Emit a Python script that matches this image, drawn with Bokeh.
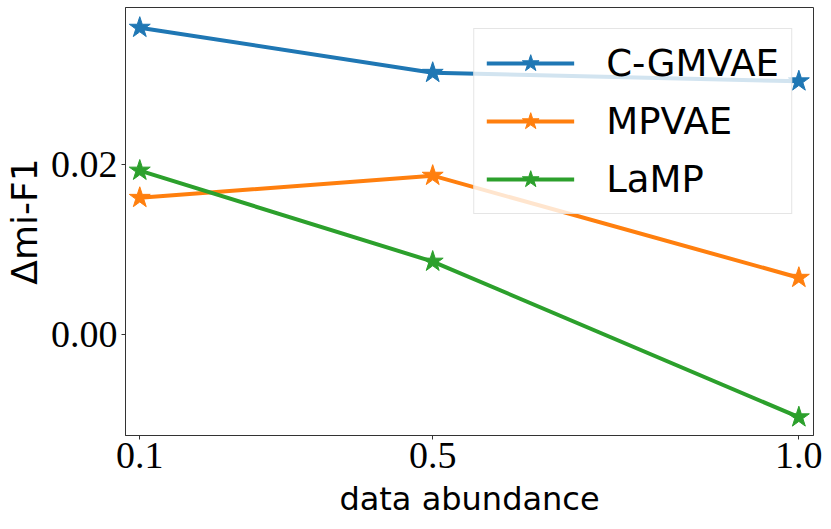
from bokeh.plotting import figure
from bokeh.models import Range1d, FixedTicker, NumeralTickFormatter
from bokeh.embed import file_html
from bokeh.resources import INLINE

# data
x_values = [0.1, 0.5, 1.0]
x_ticks = [0.1, 0.5, 1.0]
y_ticks = [0.0, 0.02]
series_names = ["C-GMVAE", "MPVAE", "LaMP"]
cgmvae = [0.0361, 0.0308, 0.0298]
mpvae = [0.0161, 0.0187, 0.0067]
lamp = [0.0193, 0.0086, -0.0097]
series_values = [cgmvae, mpvae, lamp]
colors = ["#1f77b4", "#ff7f0e", "#2ca02c"]

p = figure(width=823, height=521, output_backend="svg", toolbar_location=None,
           x_range=Range1d(0.0805, 1.020), y_range=Range1d(-0.01185, 0.03847),
           min_border_left=125, min_border_right=10, min_border_top=7,
           min_border_bottom=86)
p.xgrid.visible = False
p.ygrid.visible = False
p.outline_line_color = "#333333"
p.outline_line_width = 1
p.outline_line_alpha = 1
p.background_fill_color = "white"

for name, vals, c in zip(series_names, series_values, colors):
    p.line(x_values, vals, line_color=c, line_width=4, legend_label=name)
    p.scatter(x_values, vals, marker="star", size=22, fill_color=c,
              line_color=c, legend_label=name)

for ax in (p.xaxis[0], p.yaxis[0]):
    ax.major_label_text_font = "Liberation Serif"
    ax.major_label_text_font_size = "38px"
    ax.major_label_text_color = "black"
    ax.major_tick_out = 4
    ax.major_tick_in = 0
    ax.minor_tick_out = 0
    ax.minor_tick_in = 0
    ax.axis_line_color = "#333333"
    ax.major_tick_line_color = "#333333"
    ax.axis_label_text_font = "DejaVu Sans"
    ax.axis_label_text_font_style = "normal"
    ax.axis_label_text_color = "black"

p.xaxis.ticker = FixedTicker(ticks=x_ticks)
p.xaxis.formatter = NumeralTickFormatter(format="0.0")
p.xaxis.major_label_standoff = 3
p.xaxis.axis_label = "data abundance"
p.xaxis.axis_label_text_font_size = "32px"
p.xaxis.axis_label_standoff = 9

p.yaxis.ticker = FixedTicker(ticks=y_ticks)
p.yaxis.formatter = NumeralTickFormatter(format="0.00")
p.yaxis.major_label_standoff = 4
p.yaxis.axis_label = "Δmi-F1"
p.yaxis.axis_label_text_font_size = "36px"
p.yaxis.axis_label_standoff = 3

lg = p.legend[0]
lg.location = "top_right"
lg.margin = 21
lg.padding = 12
lg.spacing = 14
lg.glyph_width = 88
lg.glyph_height = 44
lg.label_height = 44
lg.label_standoff = 32
lg.label_text_font = "DejaVu Sans"
lg.label_text_font_size = "37px"
lg.label_text_color = "black"
lg.background_fill_alpha = 0.8
lg.border_line_color = "#cccccc"
lg.border_line_width = 1

open("out.html", "w").write(file_html(p, INLINE))
